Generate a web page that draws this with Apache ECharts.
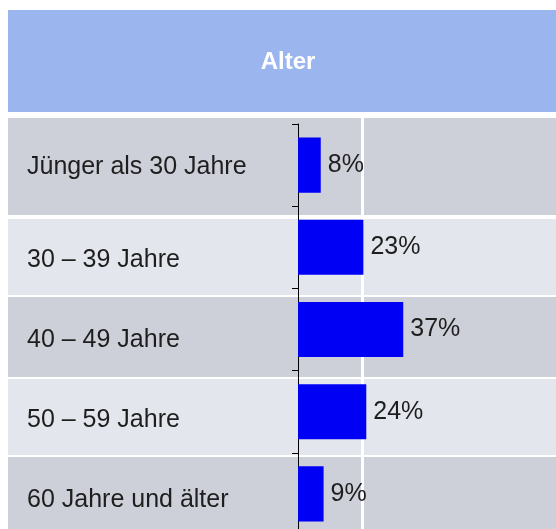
<!DOCTYPE html>
<html>
<head>
<meta charset="utf-8">
<script src="https://cdn.jsdelivr.net/npm/echarts@6/dist/echarts.min.js"></script>
<style>
  html, body { margin: 0; padding: 0; background: #fff; }
  #chart { width: 556px; height: 529px; }
</style>
</head>
<body>
<div id="chart"></div>
<script>
const title = 'Alter'
const categories = [
  'Jünger als 30 Jahre',
  '30 – 39 Jahre',
  '40 – 49 Jahre',
  '50 – 59 Jahre',
  '60 Jahre und älter'
]
const shares = [8, 23, 37, 24, 9]

// table layout (slide background behind the chart)
const rowTops = [118, 219, 297, 379, 457]
const rowBottoms = [215, 295, 377, 455, 540]
const rowColors = ['#cdcfd9', '#e4e6ee', '#cdcfd9', '#e4e6ee', '#cdcfd9']
// extra top padding per label so it sits in its table row
const labelNudge = [4, 25, 21, 17, 13]
const gridTop = 124
const bandH = 82.2

const font = 'Arial, "Liberation Sans", sans-serif'
const chart = echarts.init(document.getElementById('chart'))

const rich = {}
categories.forEach((c, i) => {
  const off = labelNudge[i]
  rich['r' + i] = {
    fontSize: 25,
    fontFamily: font,
    color: '#1e1e1e',
    padding: off >= 0 ? [off, 0, 0, 0] : [0, 0, -off, 0]
  }
})

const bg = rowTops.map((t, i) => ({
  type: 'rect',
  z: -10,
  shape: { x: 8, y: t, width: 548, height: rowBottoms[i] - t },
  style: { fill: rowColors[i] }
}))

chart.setOption({
  animation: false,
  backgroundColor: '#fff',
  graphic: [
    {
      type: 'rect',
      z: -10,
      shape: { x: 8, y: 10, width: 548, height: 102 },
      style: { fill: '#9bb6ee' }
    },
    {
      type: 'text',
      z: -5,
      x: 288,
      y: 62,
      style: {
        text: title,
        fill: '#ffffff',
        font: 'bold 24px ' + font,
        align: 'center',
        verticalAlign: 'middle'
      }
    },
    ...bg,
    {
      type: 'rect',
      z: -5,
      shape: { x: 361, y: 112, width: 3, height: 420 },
      style: { fill: '#ffffff' }
    }
  ],
  grid: {
    left: 298,
    top: gridTop,
    width: 256,
    height: bandH * categories.length,
    outerBoundsMode: 'none'
  },
  xAxis: {
    type: 'value',
    min: 0,
    max: 90,
    show: false,
    splitLine: { show: false }
  },
  yAxis: {
    type: 'category',
    inverse: true,
    data: categories,
    axisLine: { show: true, lineStyle: { color: '#000', width: 1 } },
    axisTick: { show: true, length: 6, lineStyle: { color: '#000', width: 1 } },
    axisLabel: {
      align: 'left',
      margin: 271,
      formatter: (v, i) => '{r' + i + '|' + v + '}',
      rich: rich
    },
    splitLine: { show: false }
  },
  series: [
    {
      type: 'bar',
      data: shares,
      barCategoryGap: '33%',
      itemStyle: { color: '#0000f5' },
      label: {
        show: true,
        position: 'right',
        distance: 7,
        formatter: '{c}%',
        fontSize: 25,
        fontFamily: font,
        color: '#1e1e1e'
      }
    }
  ]
})
</script>
</body>
</html>
